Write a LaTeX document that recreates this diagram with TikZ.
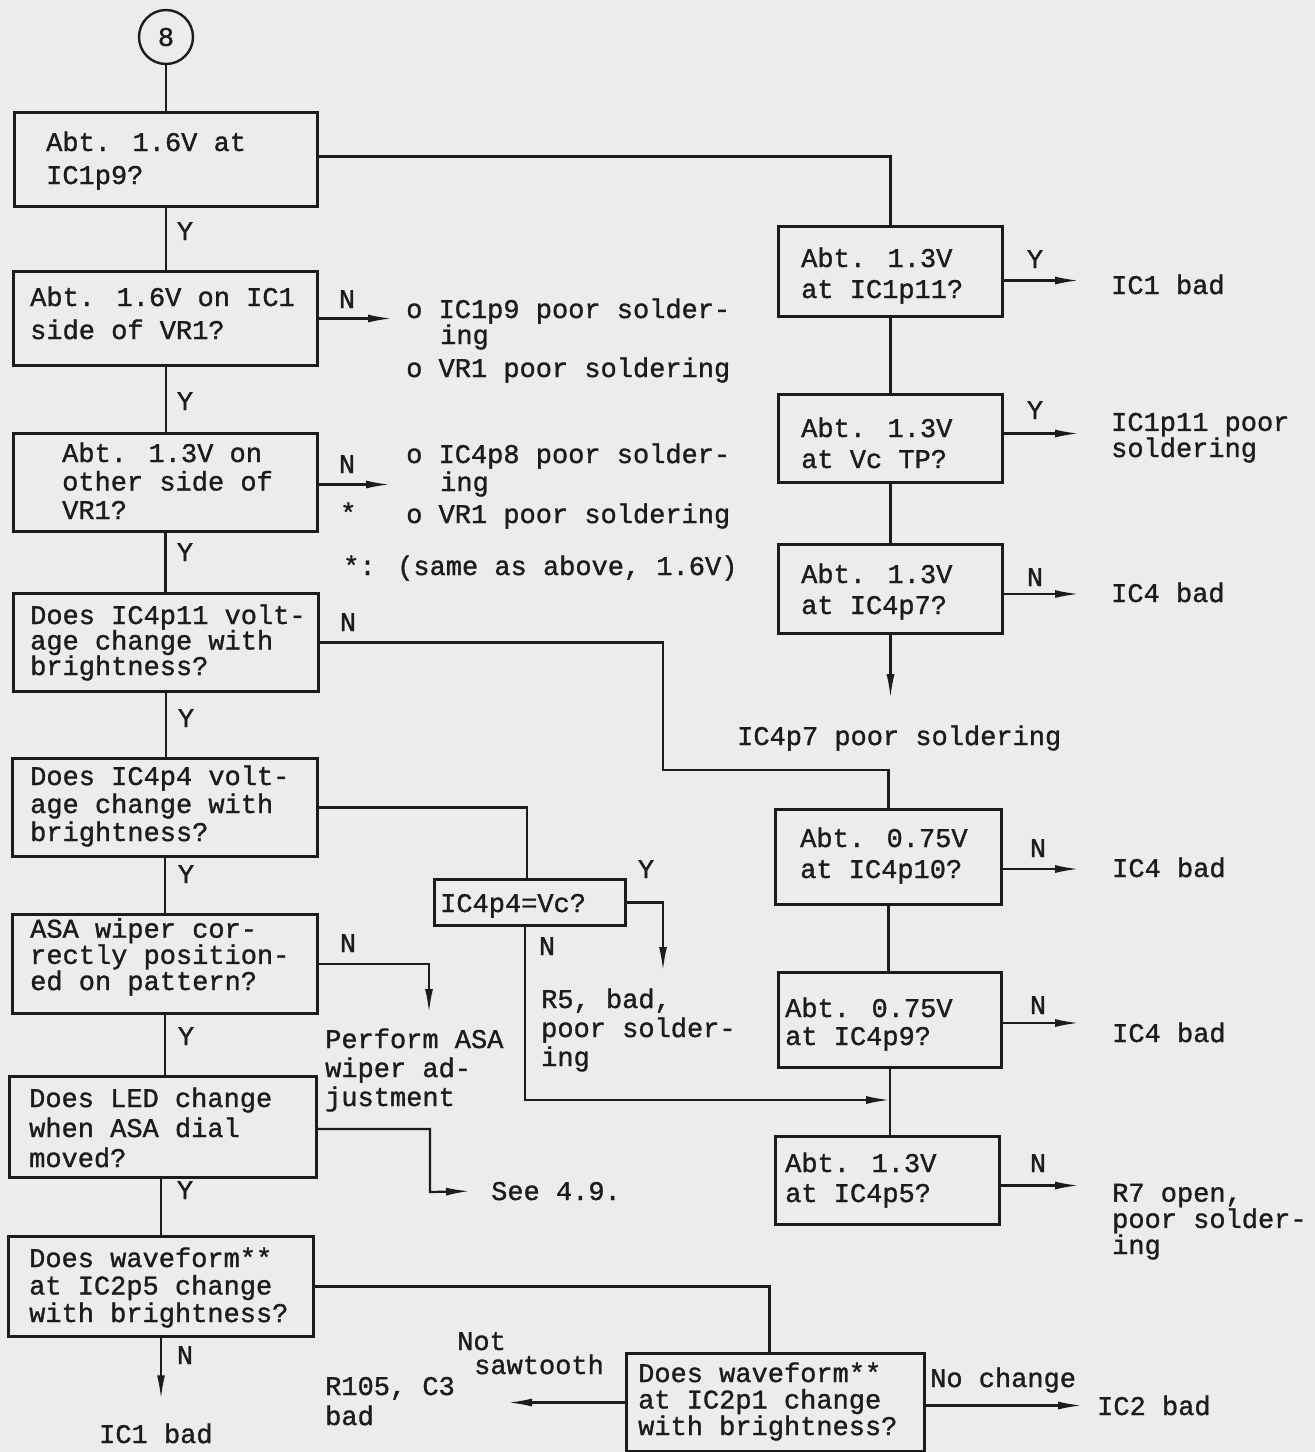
\documentclass[tikz,border=0pt]{standalone}
\usepackage{fontspec}
\newfontfamily\tw[FakeBold=1.2]{Liberation Mono}
\usetikzlibrary{arrows.meta}
\definecolor{ink}{HTML}{1C1C1C}
\definecolor{paper}{HTML}{ECECEC}
\begin{document}
\begin{tikzpicture}[x=1pt,y=-1pt,
 bx/.style={draw=ink,line width=3pt,inner sep=0pt,anchor=north west},
 tx/.style={inner sep=0pt,anchor=base west,align=left,text=ink,font=\tw\fontsize{27}{#1}\selectfont},
 tx/.default=28,
 yn/.style={inner sep=0pt,anchor=base,text=ink,font=\tw\fontsize{27}{28}\selectfont},
 ln/.style={draw=ink,line width=2.2pt},
 ar/.style={ln,-{Latex[length=24pt,width=8pt]}},
]
\useasboundingbox (0,0) rectangle (1315,1452);
\fill[paper] (0,0) rectangle (1315,1452);

% ---- start connector
\node[draw=ink,line width=2.4pt,circle,minimum size=54pt,inner sep=0pt,text=ink,font=\tw\fontsize{27}{28}\selectfont] (c8) at (166,37) {8};

% ---- left column boxes
\node[bx,minimum width=303pt,minimum height=94pt] (b1) at (13,111) {};
\node[bx,minimum width=304pt,minimum height=94pt] (b2) at (12,270) {};
\node[bx,minimum width=304pt,minimum height=98pt] (b3) at (12,432) {};
\node[bx,minimum width=305pt,minimum height=98pt] (b4) at (12,592) {};
\node[bx,minimum width=305pt,minimum height=98pt] (b5) at (11,757) {};
\node[bx,minimum width=305pt,minimum height=99pt] (b6) at (11,913) {};
\node[bx,minimum width=307pt,minimum height=101pt] (b7) at (8,1075) {};
\node[bx,minimum width=305pt,minimum height=100pt] (b8) at (7,1235) {};
\node[bx,minimum width=298pt,minimum height=98pt] (b9) at (625,1352) {};
\node[bx,minimum width=191pt,minimum height=46pt] (vc) at (433,878) {};

% ---- right column boxes
\node[bx,minimum width=224pt,minimum height=90pt] (r1) at (777,225) {};
\node[bx,minimum width=224pt,minimum height=88pt] (r2) at (777,393) {};
\node[bx,minimum width=224pt,minimum height=89pt] (r3) at (777,543) {};
\node[bx,minimum width=226pt,minimum height=95pt] (r4) at (774,808) {};
\node[bx,minimum width=223pt,minimum height=95pt] (r5) at (777,971) {};
\node[bx,minimum width=224pt,minimum height=88pt] (r6) at (774,1135) {};

% ---- box texts (anchored at baseline of last line)
\node[tx=33] (t1) at (46,184) {Abt. 1.6V at\\IC1p9?};
\node[tx=33] (t2) at (30,339) {Abt. 1.6V on IC1\\side of VR1?};
\node[tx=28.5] (t3) at (62,519) {Abt. 1.3V on\\other side of\\VR1?};
\node[tx=25.5] (t4) at (30,675) {Does IC4p11 volt-\\age change with\\brightness?};
\node[tx=28] (t5) at (30,841) {Does IC4p4 volt-\\age change with\\brightness?};
\node[tx=23.5] (t6) at (30,990) {ASA wiper cor-\\rectly position-\\ed on pattern?};
\node[tx=30] (t7) at (29,1167) {Does LED change\\when ASA dial\\moved?};
\node[tx=27.5] (t8) at (29,1322) {Does waveform**\\at IC2p5 change\\with brightness?};
\node[tx=26.5] (t9) at (638,1435) {Does waveform**\\at IC2p1 change\\with brightness?};
\node[tx] (tvc) at (440,912) {IC4p4=Vc?};
\node[tx=31] (tr1) at (801,298) {Abt. 1.3V\\at IC1p11?};
\node[tx=31] (tr2) at (801,468) {Abt. 1.3V\\at Vc TP?};
\node[tx=31] (tr3) at (801,614) {Abt. 1.3V\\at IC4p7?};
\node[tx=31] (tr4) at (800,878) {Abt. 0.75V\\at IC4p10?};
\node[tx=28] (tr5) at (785,1045) {Abt. 0.75V\\at IC4p9?};
\node[tx=30] (tr6) at (785,1202) {Abt. 1.3V\\at IC4p5?};

% ---- outcome texts
\node[tx] (o1a) at (406,318) {o IC1p9 poor solder-};
\node[tx] (o1b) at (440,344) {ing};
\node[tx] (o1c) at (406,377) {o VR1 poor soldering};
\node[tx] (o2a) at (406,463) {o IC4p8 poor solder-};
\node[tx] (o2b) at (440,491) {ing};
\node[tx] (o2c) at (406,523) {o VR1 poor soldering};
\node[tx] (star) at (340,522) {*};
\node[tx] (note) at (343,575) {*: (same as above, 1.6V)};
\node[tx] (or1) at (1111,294) {IC1 bad};
\node[tx=24] (or2) at (1111,457) {IC1p11 poor\\soldering};
\node[tx] (or3) at (1111,602) {IC4 bad};
\node[tx] (p7) at (737,745) {IC4p7 poor soldering};
\node[tx] (or4) at (1112,877) {IC4 bad};
\node[tx] (or5) at (1112,1042) {IC4 bad};
\node[tx=25] (or6) at (1112,1254) {R7 open,\\poor solder-\\ing};
\node[tx=29] (r5t) at (541,1066) {R5, bad,\\poor solder-\\ing};
\node[tx=29] (asa) at (325,1106) {Perform ASA\\wiper ad-\\justment};
\node[tx] (see) at (491,1200) {See 4.9.};
\node[tx] (ic1b) at (99,1443) {IC1 bad};
\node[tx] (nst1) at (457,1350) {Not};
\node[tx] (nst2) at (474,1374) {sawtooth};
\node[tx=30] (r105) at (325,1425) {R105, C3\\bad};
\node[tx] (noch) at (930,1387) {No change};
\node[tx] (ic2b) at (1097,1415) {IC2 bad};

% ---- helper coordinates (free ends / bends)
\coordinate (kA) at (392,0);
\coordinate (kB) at (390,0);
\coordinate (kR) at (1079,0);
\coordinate (k1) at (663,770);
\coordinate (k2) at (663,971);
\coordinate (k3) at (0,1100);
\coordinate (k4) at (429,1013);
\coordinate (k5) at (430,1192);
\coordinate (k6) at (508,0);
\coordinate (k7) at (1082,0);

% ---- main trunk
\draw[ln] (c8.south) -- (c8.south |- b1.north);
\draw[ln] (b1.south -| c8) -- (b2.north -| c8);
\draw[ln] (b2.south -| c8) -- (b3.north -| c8);
\draw[ln] (b3.south) -- (b3.south |- b4.north);
\draw[ln] (b4.south) -- (b4.south |- b5.north);
\draw[ln] (b5.south) -- (b5.south |- b6.north);
\draw[ln] (b6.south) -- (b6.south |- b7.north);
\draw[ln] (b8.north |- b7.south) -- (b8.north);
\draw[ar,shorten >=24pt] (b8.south) -- (b8.south |- ic1b.north);

% ---- branches left column
\draw[ar] (b2.east) -- (b2.east -| kA);
\draw[ar] ([yshift=-2pt]b3.east) -- ([yshift=-2pt]b3.east -| kB);
\draw[ln] ([yshift=3pt]b1.east) -| (r1.north);
\draw[ln] (b4.east) -| (k1) -| (r4.north);
\draw[ln] (b5.east) -| ([xshift=-3pt]vc.north);
\draw[ar] (vc.east) -| (k2);
\draw[ar] ([xshift=-5pt]vc.south) |- (r5.south |- k3);
\draw[ar] (b6.east) -| (k4);
\draw[ar] ([yshift=-2pt]b7.east) -| (k5) -- ([xshift=-21pt]see.west);
\draw[ln] (b8.east) -| ([xshift=-6pt]b9.north);
\draw[ar] (b9.west) -- (b9.west -| k6);
\draw[ar] ([yshift=-3pt]b9.east) -- ([yshift=-3pt]b9.east -| k7);

% ---- right column
\draw[ln] (r1.south) -- (r1.south |- r2.north);
\draw[ln] (r2.south) -- (r2.south |- r3.north);
\draw[ar,shorten >=27pt] (r3.south) -- (r3.south |- p7.north);
\draw[ln] (r4.south) -- (r4.south |- r5.north);
\draw[ln] (r5.south) -- (r5.south |- r6.north);
\draw[ar] ([yshift=-9pt]r1.east) -- ([yshift=-9pt]r1.east -| kR);
\draw[ar] ([yshift=5pt]r2.east) -- ([yshift=5pt]r2.east -| kR);
\draw[ar] ([yshift=-5pt]r3.east) -- ([yshift=-5pt]r3.east -| kR);
\draw[ar] ([yshift=-12pt]r4.east) -- ([yshift=-12pt]r4.east -| kR);
\draw[ar] ([yshift=-3pt]r5.east) -- ([yshift=-3pt]r5.east -| kR);
\draw[ar] ([yshift=-5pt]r6.east) -- ([yshift=-5pt]r6.east -| kR);

% ---- Y / N labels
\node[yn] (y1) at (185,240) {Y};
\node[yn] (y2) at (185,410) {Y};
\node[yn] (y3) at (185,561) {Y};
\node[yn] (y4) at (186,727) {Y};
\node[yn] (y5) at (186,883) {Y};
\node[yn] (y6) at (186,1045) {Y};
\node[yn] (y7) at (185,1199) {Y};
\node[yn] (n2) at (347,308) {N};
\node[yn] (n3) at (347,473) {N};
\node[yn] (n4) at (348,631) {N};
\node[yn] (n6) at (348,952) {N};
\node[yn] (n8) at (185,1364) {N};
\node[yn] (yvc) at (646,878) {Y};
\node[yn] (nvc) at (547,955) {N};
\node[yn] (yr1) at (1035,268) {Y};
\node[yn] (yr2) at (1035,419) {Y};
\node[yn] (nr3) at (1035,586) {N};
\node[yn] (nr4) at (1038,857) {N};
\node[yn] (nr5) at (1038,1014) {N};
\node[yn] (nr6) at (1038,1172) {N};
\end{tikzpicture}
\end{document}
